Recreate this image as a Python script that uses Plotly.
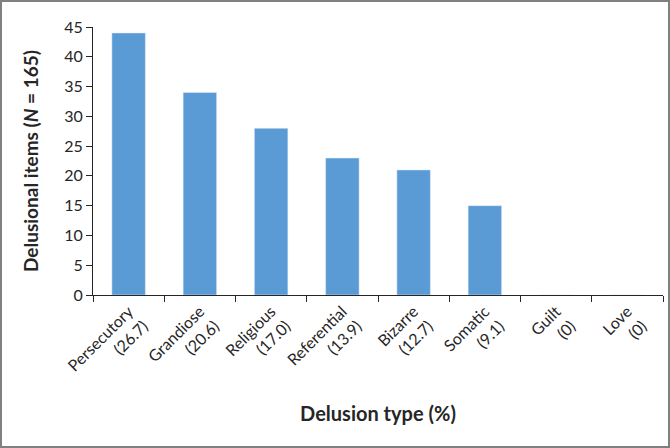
import plotly.graph_objects as go

# ── Data ──────────────────────────────────────────────────────────────────────
delusion_types = ["Persecutory", "Grandiose", "Religious", "Referential",
                  "Bizarre", "Somatic", "Guilt", "Love"]
percent_labels = ["26.7", "20.6", "17.0", "13.9", "12.7", "9.1", "0", "0"]
items = [44, 34, 28, 23, 21, 15, 0, 0]

categories = [f"{t}<br>({p})" for t, p in zip(delusion_types, percent_labels)]

W, H = 670, 448
ML, MR, MT, MB = 93, 7, 27, 153
TXT = "#262626"

fig = go.Figure(go.Bar(
    x=categories, y=items,
    marker_color="#5B9BD5",
    width=0.47,
))

fig.update_layout(
    width=W, height=H,
    margin=dict(l=ML, r=MR, t=MT, b=MB, autoexpand=False),
    paper_bgcolor="white",
    plot_bgcolor="white",
    font=dict(family="Lato, Open Sans, sans-serif", color=TXT, size=16),
    showlegend=False,
)

fig.update_xaxes(
    type="category",
    automargin=False,
    tickangle=-45,
    tickson="boundaries",
    ticks="outside", ticklen=6, tickcolor="#262626",
    showline=True, linecolor="#262626", linewidth=1,
    tickfont=dict(size=16, color=TXT),
    title=dict(text="<b>Delusion type (%)</b>", font=dict(size=20, color=TXT), standoff=18),
    showgrid=False,
)
fig.update_yaxes(
    automargin=False,
    range=[0, 45], dtick=5,
    ticks="outside", ticklen=6, tickcolor="#262626",
    showline=True, linecolor="#262626", linewidth=1,
    tickfont=dict(size=16, color=TXT),
    title=dict(text="<b>Delusional items (<i>N</i> = 165)</b>", font=dict(size=19, color=TXT), standoff=20),
    showgrid=False, zeroline=False,
)

# grey frame round the whole figure
pw, ph = W - ML - MR, H - MT - MB
fig.add_shape(
    type="rect", xref="paper", yref="paper",
    x0=-(ML - 1) / pw, x1=1 + (MR - 1) / pw,
    y0=-(MB - 1) / ph, y1=1 + (MT - 1) / ph,
    line=dict(color="#808080", width=2),
)

# drop the page's default body margin so the figure sits at the window origin
fig.write_html("out.html", config={"displayModeBar": False},
               post_script="document.body.style.margin='0';")
